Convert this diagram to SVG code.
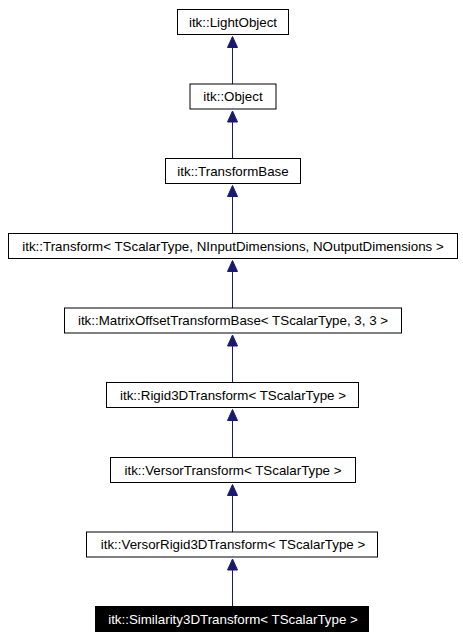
<svg xmlns="http://www.w3.org/2000/svg" width="463" height="639" viewBox="0 0 463 639">
<style>
.box{fill:#ffffff;stroke:#000000;stroke-width:1}
.hl{fill:#000000;stroke:#000000;stroke-width:1}
.t{font-family:"Liberation Sans",Arial,sans-serif;font-size:13.33px;fill:#000000;text-anchor:middle}
.tw{fill:#ffffff}
.e{stroke:#191970;stroke-width:1;fill:none}
.ah{fill:#191970;stroke:#191970;stroke-width:1}
</style>
<rect width="463" height="639" fill="#ffffff"/>
<g id="connectors">
<line class="e" x1="232.5" y1="47.5" x2="232.5" y2="84"/><polygon class="ah" points="232.5,36.5 227.5,47.5 237.5,47.5"/>
<line class="e" x1="232.5" y1="122" x2="232.5" y2="158.5"/><polygon class="ah" points="232.5,111 227.5,122 237.5,122"/>
<line class="e" x1="232.5" y1="196.5" x2="232.5" y2="233.5"/><polygon class="ah" points="232.5,185.5 227.5,196.5 237.5,196.5"/>
<line class="e" x1="232.5" y1="271.5" x2="232.5" y2="308"/><polygon class="ah" points="232.5,260.5 227.5,271.5 237.5,271.5"/>
<line class="e" x1="232.5" y1="346" x2="232.5" y2="382.5"/><polygon class="ah" points="232.5,335 227.5,346 237.5,346"/>
<line class="e" x1="232.5" y1="420.5" x2="232.5" y2="457.5"/><polygon class="ah" points="232.5,409.5 227.5,420.5 237.5,420.5"/>
<line class="e" x1="232.5" y1="495.5" x2="232.5" y2="532"/><polygon class="ah" points="232.5,484.5 227.5,495.5 237.5,495.5"/>
<line class="e" x1="232.5" y1="570" x2="232.5" y2="606.5"/><polygon class="ah" points="232.5,559 227.5,570 237.5,570"/>
</g>
<g id="node_lightobject"><rect class="box" x="177.5" y="9.5" width="111" height="25"/><text class="t" x="233" y="26.5">itk::LightObject</text></g>
<g id="node_object"><rect class="box" x="190" y="84" width="86" height="25"/><text class="t" x="233" y="101">itk::Object</text></g>
<g id="node_transformbase"><rect class="box" x="165.5" y="158.5" width="135" height="25"/><text class="t" x="233" y="175.5">itk::TransformBase</text></g>
<g id="node_transform"><rect class="box" x="8.5" y="233.5" width="449" height="25"/><text class="t" x="233" y="250.5">itk::Transform&lt; TScalarType, NInputDimensions, NOutputDimensions &gt;</text></g>
<g id="node_matrixoffset"><rect class="box" x="64.5" y="308" width="337" height="25"/><text class="t" x="233" y="325">itk::MatrixOffsetTransformBase&lt; TScalarType, 3, 3 &gt;</text></g>
<g id="node_rigid3d"><rect class="box" x="106.5" y="382.5" width="252" height="25"/><text class="t" x="233" y="399.5">itk::Rigid3DTransform&lt; TScalarType &gt;</text></g>
<g id="node_versor"><rect class="box" x="110.5" y="457.5" width="245" height="25"/><text class="t" x="233" y="474.5">itk::VersorTransform&lt; TScalarType &gt;</text></g>
<g id="node_versorrigid3d"><rect class="box" x="86.5" y="532" width="291" height="25"/><text class="t" x="233" y="549">itk::VersorRigid3DTransform&lt; TScalarType &gt;</text></g>
<g id="node_similarity3d"><rect class="hl" x="95.5" y="606.5" width="273" height="25"/><text class="t tw" x="233" y="623.5">itk::Similarity3DTransform&lt; TScalarType &gt;</text></g>
</svg>
